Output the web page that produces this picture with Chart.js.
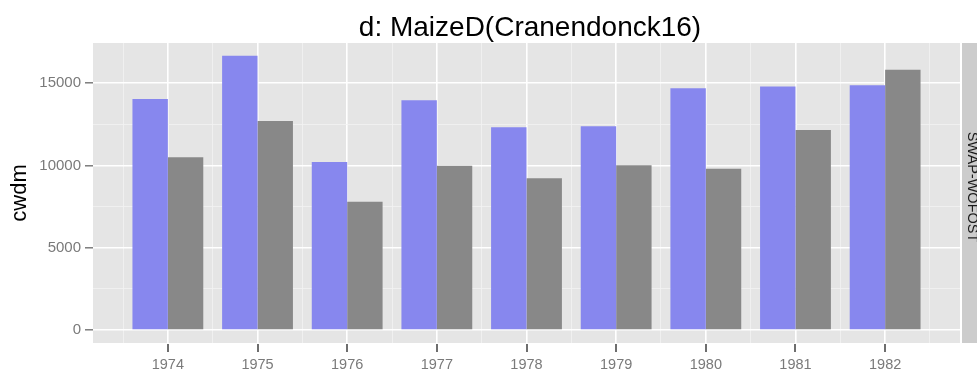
<!DOCTYPE html>
<html>
<head>
<meta charset="utf-8">
<script src="https://cdn.jsdelivr.net/npm/chart.js@4/dist/chart.umd.min.js"></script>
<style>
  html, body { margin: 0; padding: 0; background: #ffffff; }
  canvas { display: block; }
</style>
</head>
<body>
<canvas id="cwdmChart" width="977" height="374"></canvas>
<script>
// cwdm per year, two bars per year
const years = [1974, 1975, 1976, 1977, 1978, 1979, 1980, 1981, 1982];
const blueValues = [14050, 16670, 10220, 13970, 12330, 12390, 14700, 14800, 14880];
const greyValues = [10500, 12710, 7800, 9980, 9230, 10020, 9810, 12160, 15820];

const yMajorTicks = [0, 5000, 10000, 15000];
const yMinorTicks = [2500, 7500, 12500];
const xMinorTicks = [1973.5, 1974.5, 1975.5, 1976.5, 1977.5, 1978.5, 1979.5, 1980.5, 1981.5, 1982.5];

const titleText = 'd: MaizeD(Cranendonck16)';
const yAxisTitle = 'cwdm';
const stripText = 'SWAP-WOFOST';

const FONT = '"Liberation Sans", Arial, Helvetica, sans-serif';
const TICK_LEN = 8;

// grey panel, facet strip, year tick marks and the loose text around the plot
const ggDecor = {
  id: 'ggDecor',
  beforeDraw(chart) {
    const { ctx, chartArea: a } = chart;
    ctx.save();
    ctx.fillStyle = '#e5e5e5';
    ctx.fillRect(a.left, a.top, a.right - a.left, a.bottom - a.top);
    ctx.fillStyle = '#cccccc';
    ctx.fillRect(a.right + 2, a.top, chart.width - a.right - 2, a.bottom - a.top);
    ctx.restore();
  },
  afterDraw(chart) {
    const { ctx, chartArea: a } = chart;
    const xScale = chart.scales.x;
    ctx.save();

    ctx.fillStyle = '#6e6e6e';
    years.forEach(yr => {
      const px = Math.round(xScale.getPixelForValue(yr));
      ctx.fillRect(px - 1, a.bottom + 1, 2, TICK_LEN);
    });

    ctx.fillStyle = '#000000';
    ctx.font = '28px ' + FONT;
    ctx.textAlign = 'center';
    ctx.textBaseline = 'alphabetic';
    ctx.fillText(titleText, 530, 36);

    ctx.save();
    ctx.translate(20, (a.top + a.bottom) / 2);
    ctx.rotate(-Math.PI / 2);
    ctx.font = '22px ' + FONT;
    ctx.textBaseline = 'middle';
    ctx.fillText(yAxisTitle, 0, 0);
    ctx.restore();

    // strip label runs top to bottom and is cut by the right edge
    ctx.save();
    ctx.translate(967.5, (a.top + a.bottom) / 2 - 6);
    ctx.rotate(Math.PI / 2);
    ctx.font = '14.5px ' + FONT;
    ctx.fillStyle = '#1a1a1a';
    ctx.textBaseline = 'alphabetic';
    ctx.fillText(stripText, 0, 0);
    ctx.restore();
    ctx.restore();
  }
};

const toPoints = vals => vals.map((v, i) => ({ x: years[i], y: v }));

// the bar ruler also sees the half-year ticks, so the smallest step is 0.5 year;
// 1.58 of that gives a pair of bars 0.79 year wide
const barGroupShare = 1.58;

const isWhole = v => Math.abs(v - Math.round(v)) < 1e-9;

new Chart(document.getElementById('cwdmChart'), {
  type: 'bar',
  data: {
    datasets: [
      {
        label: 'blue',
        data: toPoints(blueValues),
        backgroundColor: 'rgb(135, 135, 238)',
        borderWidth: 0,
        categoryPercentage: barGroupShare,
        barPercentage: 1
      },
      {
        label: 'grey',
        data: toPoints(greyValues),
        backgroundColor: 'rgb(136, 136, 136)',
        borderWidth: 0,
        categoryPercentage: barGroupShare,
        barPercentage: 1
      }
    ]
  },
  options: {
    responsive: false,
    animation: false,
    devicePixelRatio: 1,
    layout: { padding: { top: 43, right: 17, left: 0, bottom: 0 } },
    plugins: {
      legend: { display: false },
      title: { display: false },
      tooltip: { enabled: false }
    },
    scales: {
      x: {
        type: 'linear',
        min: 1973.165,
        max: 1982.835,
        offset: false,
        afterFit(scale) { scale.height = 31; },
        afterBuildTicks(scale) {
          scale.ticks = years.concat(xMinorTicks).sort((p, q) => p - q).map(v => ({ value: v }));
        },
        border: { display: false },
        grid: {
          offset: false,
          color: c => (c.tick && isWhole(c.tick.value)) ? '#ffffff' : '#f2f2f2',
          lineWidth: c => (c.tick && isWhole(c.tick.value)) ? 1.6 : 0.8,
          tickColor: 'rgba(0,0,0,0)',
          tickLength: TICK_LEN
        },
        ticks: {
          autoSkip: false,
          maxRotation: 0,
          padding: 5,
          color: '#7a7a7a',
          font: { family: FONT, size: 14.5 },
          callback: v => (isWhole(v) ? String(v) : '')
        }
      },
      y: {
        min: -790,
        max: 17450,
        afterFit(scale) { scale.width = 93; },
        afterBuildTicks(scale) {
          scale.ticks = yMajorTicks.concat(yMinorTicks).sort((p, q) => p - q).map(v => ({ value: v }));
        },
        border: { display: false },
        grid: {
          color: c => (c.tick && c.tick.value % 5000 === 0) ? '#ffffff' : '#f2f2f2',
          lineWidth: c => (c.tick && c.tick.value % 5000 === 0) ? 1.6 : 0.8,
          tickColor: c => (c.tick && c.tick.value % 5000 === 0) ? '#737373' : 'rgba(0,0,0,0)',
          tickLength: TICK_LEN,
          tickWidth: 1.4
        },
        ticks: {
          autoSkip: false,
          padding: 4,
          color: '#7a7a7a',
          font: { family: FONT, size: 15 },
          callback: v => (v % 5000 === 0 ? String(v) : '')
        }
      }
    }
  },
  plugins: [ggDecor]
});
</script>
</body>
</html>
